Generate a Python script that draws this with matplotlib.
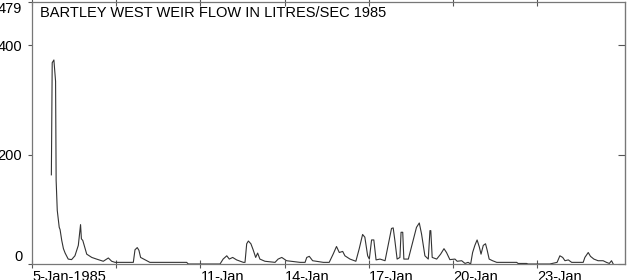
import numpy as np
import pandas as pd
import matplotlib
matplotlib.use("Agg")
import matplotlib.pyplot as plt

# flow readings: days after 5-Jan-1985 00:00, litres/sec
day_offset = [0.69, 0.72, 0.78, 0.84, 0.86, 0.90, 0.97, 1.00, 1.06, 1.12,
              1.18, 1.29, 1.41, 1.53, 1.65, 1.73, 1.76, 1.81, 1.95, 2.13,
              2.30, 2.54, 2.72, 2.84, 2.96, 3.61, 3.67, 3.75, 3.81, 3.87,
              4.09, 4.20, 5.51, 5.57, 6.70, 6.81, 6.94, 7.03, 7.15, 7.29,
              7.53, 7.59, 7.65, 7.71, 7.80, 7.88, 7.97, 8.04, 8.12, 8.30,
              8.66, 8.77, 8.90, 9.07, 9.55, 9.73, 9.79, 9.88, 10.00, 10.38,
              10.59, 10.73, 10.85, 10.95, 11.07, 11.15, 11.33, 11.54, 11.66, 11.78,
              11.86, 11.96, 12.02, 12.10, 12.18, 12.26, 12.40, 12.58, 12.69, 12.81,
              12.87, 12.93, 13.01, 13.11, 13.15, 13.21, 13.25, 13.41, 13.58, 13.70,
              13.80, 13.88, 14.00, 14.12, 14.18, 14.21, 14.26, 14.42, 14.56, 14.68,
              14.77, 14.89, 15.07, 15.15, 15.31, 15.43, 15.54, 15.63, 15.70, 15.78,
              15.86, 15.94, 16.00, 16.08, 16.16, 16.22, 16.29, 16.41, 16.56, 17.27,
              17.32, 17.62, 17.68, 18.45, 18.71, 18.81, 18.91, 18.99, 19.11, 19.23,
              19.64, 19.70, 19.82, 19.90, 20.02, 20.17, 20.35, 20.47, 20.57, 20.65,
              20.71]
flow = [163, 368, 373, 334, 153, 98, 67, 63, 43, 28,
        20, 9, 8, 15, 34, 72, 46, 43, 18, 12,
        9, 5, 11, 5, 3, 3, 26, 30, 25, 12,
        6, 3, 3, 0, 0, 9, 15, 9, 12, 7.5,
        3, 3, 37, 42, 37, 26, 12, 20, 9, 5,
        3, 9, 12, 6, 3, 3, 12, 14, 6, 3,
        3, 18, 32, 21, 23, 15, 9, 5, 28, 54,
        49, 15, 9, 44, 44, 7.5, 9, 6, 34, 65,
        66, 43, 9, 12, 58, 58, 9, 9, 43, 67,
        75, 55, 15, 9, 61, 61, 12, 9, 18, 28,
        21, 8, 9, 5, 6, 1, 3, 0, 21, 34,
        44, 31, 18, 34, 37, 25, 9, 6, 3, 3,
        1, 1, 0, 0, 3, 15, 12, 6, 7.5, 3,
        3, 12, 21, 14, 9, 6, 6, 3, 1, 6,
        0]

start = pd.Timestamp("1985-01-05")
times = start + pd.to_timedelta(day_offset, unit="D")

tick_dates = pd.to_datetime(["1985-01-05", "1985-01-08", "1985-01-11", "1985-01-14",
                             "1985-01-17", "1985-01-20", "1985-01-23"])
tick_labels = ["5-Jan-1985", "", "11-Jan", "14-Jan", "17-Jan", "20-Jan", "23-Jan"]
y_ticks = [0, 200, 400, 479]

plt.rcParams["font.family"] = ["Liberation Sans", "DejaVu Sans"]

fig = plt.figure(figsize=(6.27, 2.8), dpi=100)
ax = fig.add_axes([32/627, 16/280, 593/627, 262/280])

ax.plot(times, flow, color="#333333", lw=0.8)

ax.set_xlim(start, start + pd.Timedelta(days=21.13))
ax.set_ylim(0, 479)

# x ticks, labels sit to the right of the tick
ax.set_xticks(tick_dates)
ax.set_xticklabels(tick_labels, ha="left", fontsize=10.5)
ax.tick_params(axis="x", direction="inout", length=6, width=0.8, color="#555555",
               top=True, pad=1.5)

ax.set_yticks(y_ticks)
ax.set_yticklabels([str(v) for v in y_ticks], fontsize=10.5)
ax.tick_params(axis="y", direction="out", length=3, width=0.8, color="#555555", pad=4)
ylabs = ax.get_yticklabels()
ylabs[0].set_va("bottom")
ylabs[-1].set_va("top")

# inward ticks on right side
sec = ax.secondary_yaxis("right")
sec.set_yticks([0, 200, 400])
sec.tick_params(direction="in", length=5, width=0.8, color="#555555", labelright=False)
sec.spines["right"].set_color("#777777")

for s in ax.spines.values():
    s.set_color("#777777")
    s.set_linewidth(0.9)

ax.text((40-32)/593, 0.958, "BARTLEY WEST WEIR FLOW IN LITRES/SEC 1985",
        transform=ax.transAxes, fontsize=10.5, va="center", ha="left")

fig.savefig("out.png", dpi=100)
